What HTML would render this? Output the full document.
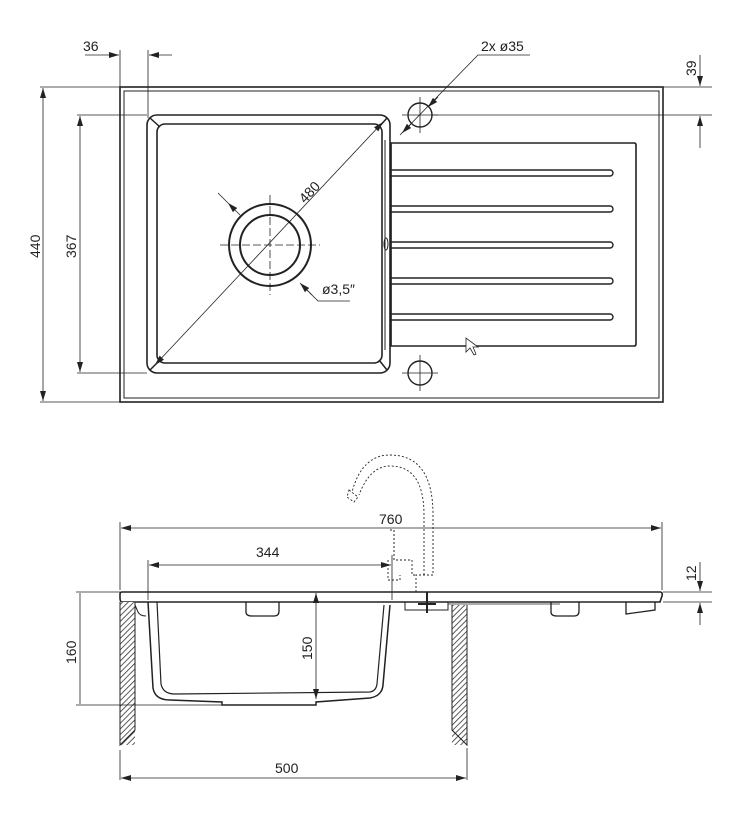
<!DOCTYPE html>
<html><head><meta charset="utf-8"><style>
html,body{margin:0;padding:0;background:#fff;}
svg{display:block;}
text{font-family:"Liberation Sans",sans-serif;font-size:14px;fill:#222;}
</style></head><body>
<svg width="743" height="833" viewBox="0 0 743 833" xmlns="http://www.w3.org/2000/svg">
<defs>
<marker id="a" viewBox="0 0 10 6" refX="10" refY="3" markerWidth="10" markerHeight="6" orient="auto-start-reverse" markerUnits="userSpaceOnUse"><path d="M0,0L10,3L0,6z" fill="#222"/></marker>
<pattern id="h" width="4" height="4" patternUnits="userSpaceOnUse" patternTransform="rotate(45)"><rect width="4" height="4" fill="#fff"/><line x1="0" y1="0" x2="0" y2="4" stroke="#333" stroke-width="1.6"/></pattern>
</defs>
<g fill="none" stroke="#222">
<!-- TOP VIEW -->
<rect x="120" y="87" width="543" height="315" stroke-width="1.6"/>
<rect x="124" y="91" width="535" height="307" stroke-width="1"/>
<rect x="147" y="115" width="243" height="258" rx="10" stroke-width="1.6"/>
<rect x="157" y="124" width="225" height="239" rx="8" stroke-width="1.6"/>
<path d="M150,118 L160,127 M387,118 L379,127 M150,370 L160,360 M387,370 L379,360" stroke-width="1.5"/>
<circle cx="270" cy="245" r="41" stroke-width="2"/>
<circle cx="270" cy="245" r="30" stroke-width="2"/>
<path d="M220,245H320M270,195V295" stroke-width="0.8" stroke-dasharray="8,3"/>
<path d="M155,365L383,122" stroke-width="0.8" marker-start="url(#a)" marker-end="url(#a)"/>
<path d="M218,193L228,203M304,287L318,301H350" stroke-width="0.8"/>
<path d="M228,203L240,215" stroke-width="0.8" marker-start="url(#a)"/>
<path d="M300,283L312,295" stroke-width="0.8" marker-start="url(#a)"/>
<!-- drainboard -->
<path d="M391,143H634Q636,143 636,145V344Q636,346 634,346H391Z" stroke-width="1.6"/>
<path d="M391,143 V346" stroke-width="1.2"/>
<path d="M385,140V350" stroke-width="1"/>
<ellipse cx="386" cy="244" rx="2" ry="6" stroke-width="1"/>
<g stroke-width="1.4">
<path d="M391,170H610A3,3 0 0 1 610,176H391"/>
<path d="M391,206H610A3,3 0 0 1 610,212H391"/>
<path d="M391,242H610A3,3 0 0 1 610,248H391"/>
<path d="M391,278H610A3,3 0 0 1 610,284H391"/>
<path d="M391,314H610A3,3 0 0 1 610,320H391"/>
</g>
<circle cx="420" cy="115" r="12" stroke-width="1.4"/>
<circle cx="420" cy="373" r="12" stroke-width="1.4"/>
<path d="M402,115H438M420,97V133M402,373H438M420,355V391" stroke-width="0.8"/>
<path d="M400,135L478,55H530" stroke-width="0.8"/>
<path d="M412,123L402,133" stroke-width="0.8" marker-end="url(#a)"/>
<path d="M438,97L428,107" stroke-width="0.8" marker-end="url(#a)"/>
<!-- dims top -->
<path d="M40,87H120M40,402H120M77,115H147M77,373H147" stroke-width="0.8"/>
<path d="M43,88V401" stroke-width="0.8" marker-start="url(#a)" marker-end="url(#a)"/>
<path d="M80,116V372" stroke-width="0.8" marker-start="url(#a)" marker-end="url(#a)"/>
<path d="M120,50V90M148,50V118" stroke-width="0.8"/>
<path d="M85,55H119" stroke-width="0.8" marker-end="url(#a)"/>
<path d="M172,55H149" stroke-width="0.8" marker-end="url(#a)"/>
<path d="M663,87H712M432,115H712" stroke-width="0.8"/>
<path d="M700,55V86" stroke-width="0.8" marker-end="url(#a)"/>
<path d="M700,148V116" stroke-width="0.8" marker-end="url(#a)"/>
<!-- SIDE VIEW -->
<path d="M122,592H660Q663,592 662,596L660,602H122Q120,602 120,598V594Q120,592 122,592Z" stroke-width="1.6"/>
<path d="M148,602L153,688Q155,700 170,700L222,702V705H316V702L370,698Q382,696 383,685L390,605" stroke-width="1.5"/>
<path d="M157,602L161,684Q163,694 175,694L370,692Q376,691 377,684L384,605" stroke-width="1.2"/>
<path d="M135,605L138,612Q140,616 146,616" stroke-width="1"/>
<path d="M246,602V612Q246,616 252,616H274Q279,616 279,611V602" stroke-width="1.3"/>
<path d="M551,602V612Q551,616 557,616H574Q579,616 579,611V602" stroke-width="1.3"/>
<path d="M626,602V614L655,610V602" stroke-width="1.3"/>
<path d="M405,602V610H448V602" stroke-width="1"/>
<path d="M448,604L560,604" stroke-width="0.8"/>
<path d="M418,604H436M427,592V613" stroke-width="2"/>
<rect x="120" y="602" width="15" height="143" fill="url(#h)" stroke="none"/>
<path d="M120,602V745L135,730V602" stroke-width="1"/>
<rect x="452" y="605" width="15" height="140" fill="url(#h)" stroke="none"/>
<path d="M452,605V730L467,745V605" stroke-width="1"/>
<!-- faucet dashed -->
<g stroke-width="0.9" stroke-dasharray="2,2">
<path d="M416,592V575H433V515Q433,455 390,455Q362,455 352,492"/>
<path d="M424,575V515Q424,466 390,466Q370,466 359,495"/>
<path d="M349,490L358,497L354,502L347,497Z"/>
<path d="M390,530H394V560H412V575H416M388,560V580H400V575"/>
<path d="M394,560V530"/>
</g>
<!-- dims side -->
<path d="M120,522V590M662,522V590M148,560V600M392,555V600" stroke-width="0.8"/>
<path d="M121,528H661" stroke-width="0.8" marker-start="url(#a)" marker-end="url(#a)"/>
<path d="M149,565H391" stroke-width="0.8" marker-start="url(#a)" marker-end="url(#a)"/>
<path d="M76,592H120M76,705H222M663,592H712M663,602H712" stroke-width="0.8"/>
<path d="M80,593V704" stroke-width="0.8"/>
<path d="M316,593V699" stroke-width="0.8" marker-start="url(#a)" marker-end="url(#a)"/>
<path d="M700,562V591" stroke-width="0.8" marker-end="url(#a)"/>
<path d="M700,625V603" stroke-width="0.8" marker-end="url(#a)"/>
<path d="M120,750V780M467,748V780" stroke-width="0.8"/>
<path d="M121,778H466" stroke-width="0.8" marker-start="url(#a)" marker-end="url(#a)"/>
</g>
<!-- labels -->
<text x="83" y="51">36</text>
<text x="481" y="51">2x ø35</text>
<text x="322" y="294">ø3,5″</text>
<text transform="translate(305,204) rotate(-47)">480</text>
<text transform="translate(40,258) rotate(-90)">440</text>
<text transform="translate(76,258) rotate(-90)">367</text>
<text transform="translate(696,76) rotate(-90)">39</text>
<text x="379" y="524">760</text>
<text x="256" y="557">344</text>
<text transform="translate(696,581) rotate(-90)">12</text>
<text transform="translate(76,664) rotate(-90)">160</text>
<text transform="translate(312,660) rotate(-90)">150</text>
<text x="275" y="773">500</text>
<path d="M466,338V352L470,348L474,355L476,354L473,347H478Z" fill="#fff" stroke="#222" stroke-width="0.8"/>
</svg>
</body></html>
